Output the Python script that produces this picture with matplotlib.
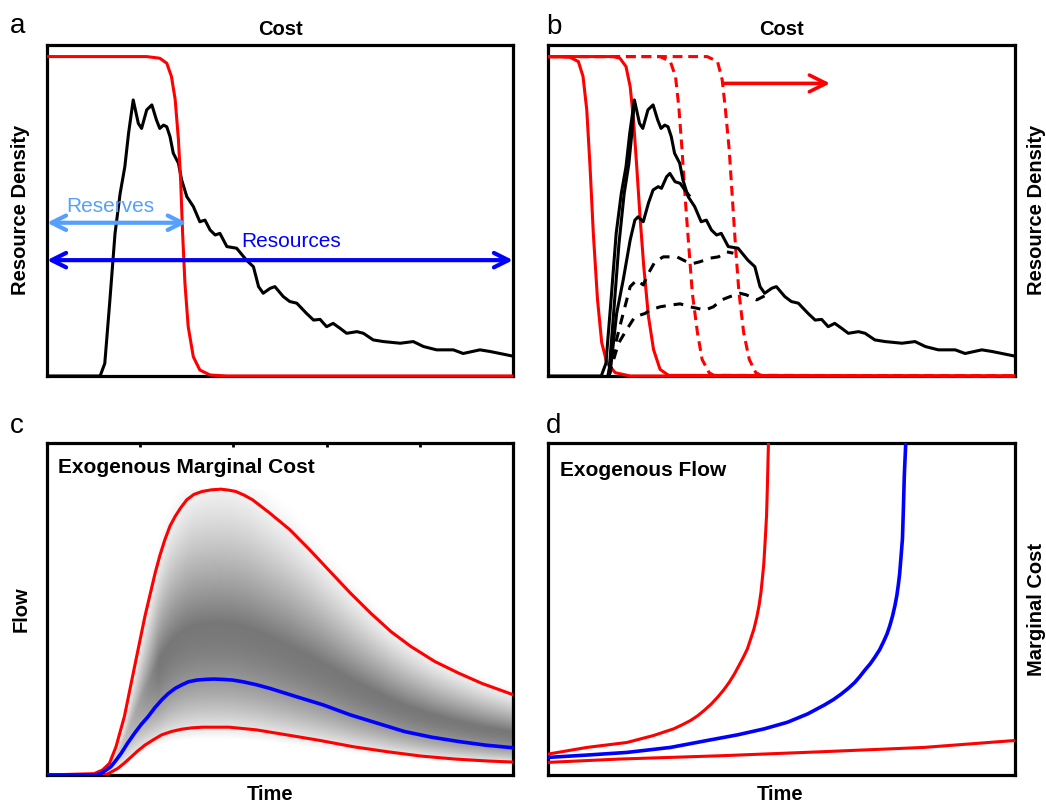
import numpy as np
import matplotlib.pyplot as plt

plt.rcParams["font.family"] = ["Liberation Sans", "DejaVu Sans"]

RED = "#ff0000"
BLUE = "#0000ff"
LIGHT_BLUE = "#55a0ff"
W, H = 1046, 806

# a / b: resource density against cost
density_cost = [0, 11.4, 12.4, 13.5, 14.6, 15.7, 16.7, 17.5, 18.5, 19.6,
                20.3, 21.4, 22.5, 23.5, 24.2, 25.0, 25.7, 26.4, 27.1, 28.2,
                28.9, 30.0, 31.4, 32.8, 33.9, 35.0, 36.1, 37.1, 38.6, 40.7,
                42.8, 44.3, 45.4, 46.4, 47.9, 48.9, 50.7, 52.1, 53.6, 55.7,
                57.2, 58.6, 60.0, 61.4, 62.9, 64.3, 66.5, 67.9, 70.0, 72.2,
                75.8, 78.6, 80.8, 83.6, 87.2, 89.3, 92.9, 95.1, 100]
density = [0, 0, 0.038, 0.230, 0.431, 0.552, 0.632, 0.733, 0.834, 0.763,
           0.748, 0.804, 0.819, 0.773, 0.748, 0.758, 0.753, 0.723, 0.673, 0.643,
           0.592, 0.542, 0.512, 0.466, 0.471, 0.441, 0.426, 0.431, 0.391, 0.386,
           0.350, 0.330, 0.270, 0.250, 0.265, 0.270, 0.240, 0.225, 0.220, 0.189,
           0.169, 0.171, 0.149, 0.159, 0.144, 0.129, 0.134, 0.129, 0.109, 0.104,
           0.099, 0.104, 0.089, 0.079, 0.079, 0.068, 0.079, 0.074, 0.060]

# extracted fraction (red step) in a
extract_cost = [0, 21.4, 24.2, 25.7, 26.7, 27.5, 28.2, 28.7, 29.1, 29.6,
                30.3, 31.4, 32.8, 35.0, 38.6, 100]
extract_frac = [0.965, 0.965, 0.960, 0.945, 0.905, 0.836, 0.715, 0.584, 0.431, 0.280,
                0.149, 0.058, 0.018, 0.003, 0, 0]

# b: four extraction fronts (two solid, two dashed)
front1_cost = [0, 4.7, 6.5, 7.5, 8.3, 9.0, 9.7, 10.6, 11.5, 12.6, 14.4, 17.6, 100]
front1_frac = [0.965, 0.963, 0.950, 0.905, 0.804, 0.633, 0.432, 0.231, 0.101, 0.040, 0.010, 0, 0]
front2_cost = [0, 14.0, 15.4, 16.7, 17.6, 18.3, 19.0, 19.7, 20.5, 21.5, 22.6, 24.0, 25.8, 100]
front2_frac = [0.965, 0.965, 0.960, 0.935, 0.874, 0.774, 0.633, 0.482, 0.332, 0.181, 0.080, 0.020, 0.002, 0]
front3_cost = [0, 24.0, 26.2, 27.3, 28.0, 28.7, 29.4, 30.2, 30.9, 32.0, 33.0, 34.5, 35.5, 100]
front3_frac = [0.965, 0.965, 0.950, 0.905, 0.815, 0.684, 0.533, 0.382, 0.251, 0.131, 0.050, 0.010, 0.002, 0]
front4_cost = [0, 34.1, 36.3, 37.3, 38.0, 38.8, 39.5, 40.2, 40.9, 41.9, 43.1, 44.5, 45.6, 100]
front4_frac = [0.965, 0.965, 0.950, 0.895, 0.804, 0.684, 0.533, 0.382, 0.251, 0.131, 0.050, 0.010, 0.002, 0]

# b: remaining density curves
rise_cost = [13.0, 14.0, 15.2, 16.3, 17.3, 18.0, 18.5]
rise_dens = [0, 0.18, 0.40, 0.55, 0.64, 0.74, 0.834]
mid_cost = [12.8, 13.3, 14.7, 16.1, 17.6, 18.6, 19.3, 20.4, 21.5, 22.5,
            23.6, 24.3, 25.4, 26.1, 27.2, 28.3, 29.3, 30.4]
mid_dens = [0, 0.009, 0.189, 0.290, 0.411, 0.471, 0.481, 0.466, 0.522, 0.562,
            0.572, 0.567, 0.602, 0.612, 0.587, 0.582, 0.562, 0.542]
dash_hi_cost = [12.8, 14.3, 16.1, 17.6, 19.0, 20.4, 21.5, 22.9, 24.7, 27.6,
                29.7, 31.1, 32.5, 34.7, 36.5, 38.3, 39.7]
dash_hi_dens = [0, 0.089, 0.189, 0.270, 0.290, 0.275, 0.310, 0.345, 0.360, 0.360,
                0.345, 0.340, 0.345, 0.356, 0.360, 0.375, 0.371]
dash_lo_cost = [13.0, 15.1, 16.8, 18.6, 20.8, 21.8, 24.0, 26.1, 28.3, 30.4,
                31.8, 33.6, 35.4, 37.2, 39.0, 41.1, 42.5, 44.7, 46.1, 47.5]
dash_lo_dens = [0, 0.099, 0.139, 0.179, 0.189, 0.199, 0.209, 0.214, 0.218, 0.209,
                0.205, 0.199, 0.209, 0.230, 0.240, 0.250, 0.245, 0.230, 0.240, 0.250]

# c: flow over time, exogenous marginal cost
upper_t = [0, 10.1, 11.9, 13.4, 14.8, 16.6, 18.8, 21.0, 23.2, 24.2,
           25.3, 26.4, 27.5, 28.7, 30.0, 31.5, 33.3, 35.3, 37.3, 39.0,
           40.5, 42.3, 44.1, 47.8, 52.1, 56.4, 60.4, 65.1, 69.5, 73.8,
           78.1, 83.2, 88.3, 93.3, 100]
upper_flow = [0, 0.004, 0.015, 0.035, 0.085, 0.176, 0.327, 0.477, 0.608, 0.66,
              0.709, 0.75, 0.779, 0.805, 0.829, 0.845, 0.854, 0.859, 0.861, 0.858,
              0.854, 0.843, 0.829, 0.789, 0.739, 0.678, 0.618, 0.548, 0.487, 0.432,
              0.387, 0.342, 0.307, 0.276, 0.242]
median_t = [0, 10.5, 11.6, 12.6, 13.7, 14.8, 15.9, 17.3, 18.8, 20.2,
            21.7, 23.1, 24.6, 26.0, 27.5, 29.0, 30.4, 32.2, 34.0, 35.8,
            37.6, 39.8, 42.0, 44.9, 47.8, 53.5, 59.3, 65.1, 70.9, 76.7,
            82.5, 88.3, 94.1, 100]
median_flow = [0, 0, 0.005, 0.014, 0.025, 0.044, 0.065, 0.096, 0.126, 0.152,
               0.176, 0.202, 0.226, 0.245, 0.261, 0.272, 0.281, 0.286, 0.288, 0.289,
               0.288, 0.286, 0.281, 0.272, 0.261, 0.236, 0.211, 0.181, 0.156, 0.131,
               0.114, 0.101, 0.090, 0.082]
lower_t = [0, 11.5, 13.0, 15.2, 16.6, 18.1, 19.5, 21.0, 22.8, 24.6,
           26.7, 28.9, 31.1, 33.3, 39.1, 44.9, 51.4, 58.6, 65.8, 73.1,
           80.3, 87.6, 94.8, 100]
lower_flow = [0, 0, 0.003, 0.020, 0.036, 0.055, 0.073, 0.090, 0.106, 0.121,
              0.131, 0.138, 0.142, 0.144, 0.144, 0.136, 0.121, 0.104, 0.085, 0.070,
              0.057, 0.048, 0.042, 0.039]

# d: marginal cost over time, exogenous flow
fast_t = [0, 8.3, 16.9, 22.6, 26.9, 28.7, 30.5, 32.0, 33.4, 34.9,
          36.3, 37.6, 38.8, 39.9, 40.9, 41.8, 42.7, 43.4, 44.1, 44.7,
          45.2, 45.6, 45.9, 46.2, 46.4, 46.6, 46.8, 46.9, 47.0, 47.1,
          47.2, 47.3]
fast_cost = [0.063, 0.083, 0.098, 0.119, 0.139, 0.151, 0.164, 0.178, 0.194, 0.213,
             0.234, 0.256, 0.279, 0.304, 0.330, 0.354, 0.380, 0.41, 0.440, 0.475,
             0.511, 0.55, 0.591, 0.635, 0.681, 0.73, 0.782, 0.83, 0.882, 0.94,
             0.998, 1.03]
base_t = [0, 8.3, 16.9, 26.2, 34.1, 40.6, 46.3, 51.3, 55.6, 59.2,
          61.1, 62.8, 64.3, 65.7, 66.8, 67.8, 69.0, 70.0, 71.0, 71.8,
          72.6, 73.2, 73.8, 74.3, 74.7, 75.0, 75.3, 75.5, 75.7, 75.9,
          76.0, 76.1, 76.3, 76.6, 76.7]
base_cost = [0.053, 0.060, 0.068, 0.083, 0.104, 0.121, 0.139, 0.159, 0.184, 0.211,
             0.227, 0.244, 0.261, 0.279, 0.297, 0.315, 0.335, 0.355, 0.377, 0.400,
             0.425, 0.450, 0.480, 0.511, 0.541, 0.571, 0.606, 0.641, 0.676, 0.712,
             0.757, 0.802, 0.903, 0.998, 1.03]
slow_t = [0, 15.2, 37.0, 58.5, 80.4, 100]
slow_cost = [0.038, 0.048, 0.058, 0.070, 0.083, 0.104]


def fpos(x, y):
    return x / W, 1 - y / H


def setup(ax):
    ax.set_xlim(0, 100)
    ax.set_ylim(0, 1)
    ax.set_xticks([])
    ax.set_yticks([])
    for s in ax.spines.values():
        s.set_linewidth(2.3)


fig = plt.figure(figsize=(W / 100, H / 100), dpi=100)
ax1 = fig.add_axes([47 / W, 1 - 376 / H, 466 / W, 331 / H])
ax2 = fig.add_axes([548 / W, 1 - 376 / H, 467 / W, 331 / H])
ax3 = fig.add_axes([47 / W, 1 - 775 / H, 466 / W, 332 / H])
ax4 = fig.add_axes([548 / W, 1 - 775 / H, 467 / W, 332 / H])
for ax in (ax1, ax2, ax3, ax4):
    setup(ax)

lw = 2.2
kw = dict(clip_on=False, zorder=3, solid_capstyle="butt", solid_joinstyle="round")

# a
ax1.plot(density_cost, density, color="black", lw=lw, **kw)
ax1.plot(extract_cost, extract_frac, color=RED, lw=lw, **kw)
ax1.annotate("", xy=(30.0, 0.463), xytext=(0, 0.463),
             arrowprops=dict(arrowstyle="<->", color=LIGHT_BLUE, lw=3,
                             mutation_scale=26, shrinkA=0, shrinkB=0))
ax1.annotate("", xy=(100, 0.350), xytext=(0, 0.350),
             arrowprops=dict(arrowstyle="<->", color=BLUE, lw=3,
                             mutation_scale=26, shrinkA=0, shrinkB=0))
ax1.text(13.5, 0.495, "Reserves", color=LIGHT_BLUE, fontsize=15, ha="center", va="baseline")
ax1.text(52.3, 0.390, "Resources", color=BLUE, fontsize=15, ha="center", va="baseline")
ax1.set_title("Cost", fontsize=14.5, fontweight="bold", pad=7)

# b
ax2.plot(front3_cost, front3_frac, color=RED, lw=lw, dashes=(3.2, 1.9), **kw)
ax2.plot(front4_cost, front4_frac, color=RED, lw=lw, dashes=(3.2, 1.9), **kw)
ax2.plot(front1_cost, front1_frac, color=RED, lw=lw, **kw)
ax2.plot(front2_cost, front2_frac, color=RED, lw=lw, **kw)
ax2.plot(density_cost, density, color="black", lw=lw, **kw)
ax2.plot(rise_cost, rise_dens, color="black", lw=lw, **kw)
ax2.plot(mid_cost, mid_dens, color="black", lw=lw, **kw)
ax2.plot(dash_hi_cost, dash_hi_dens, color="black", lw=lw, dashes=(3.2, 2.6), **kw)
ax2.plot(dash_lo_cost, dash_lo_dens, color="black", lw=lw, dashes=(3.2, 2.6), **kw)
ax2.annotate("", xy=(60.4, 0.884), xytext=(37.7, 0.884),
             arrowprops=dict(arrowstyle="->", color=RED, lw=2.6,
                             mutation_scale=30, shrinkA=0, shrinkB=0))
ax2.set_title("Cost", fontsize=14.5, fontweight="bold", pad=7)

# c: shaded spread of possible flows
xs = np.linspace(0, 100, 700)
ys = np.linspace(0, 1, 500)
lo = np.interp(xs, lower_t, lower_flow)
md = np.interp(xs, median_t, median_flow)
hi = np.interp(xs, upper_t, upper_flow)
Y = ys[:, None]
peak = md + 0.3 * (hi - md)
up = np.clip((Y - peak) / (1.2 * (hi - peak) + 1e-6), 0, 1)
down = np.clip((peak - Y) / (peak - 0.75 * lo + 1e-6), 0, 1)
dark = np.where(Y >= peak, (1 - up) ** 1.3, 1 - down ** 2)
dark *= np.clip((xs - 10) / 14, 0, 1)
dark[ys > max(upper_flow)] = 0
shade = 1 - 0.53 * dark
ax3.imshow(np.dstack([shade] * 3), extent=[0, 100, 0, 1], origin="lower",
           aspect="auto", interpolation="bilinear", zorder=1)
ax3.plot(upper_t, upper_flow, color=RED, lw=lw, zorder=3)
ax3.plot(lower_t, lower_flow, color=RED, lw=lw, zorder=3)
ax3.plot(median_t, median_flow, color=BLUE, lw=2.6, zorder=3)
ax3.set_xticks([20, 40, 60, 80])
ax3.tick_params(axis="x", top=True, bottom=False, direction="in", length=3,
                width=2, labeltop=False, labelbottom=False)
ax3.text(2.4, 0.925, "Exogenous Marginal Cost", fontsize=15, fontweight="bold",
         ha="left", va="center")

# d
ax4.plot(slow_t, slow_cost, color=RED, lw=lw, zorder=3)
ax4.plot(base_t, base_cost, color=BLUE, lw=2.6, zorder=3)
ax4.plot(fast_t, fast_cost, color=RED, lw=lw, zorder=3)
ax4.text(2.6, 0.916, "Exogenous Flow", fontsize=15, fontweight="bold",
         ha="left", va="center")

# axis labels and panel letters
lab = dict(fontsize=14.5, fontweight="bold", ha="center", va="center")
fig.text(*fpos(21, 210), "Resource Density", rotation=90, **lab)
fig.text(*fpos(1037, 210), "Resource Density", rotation=90, **lab)
fig.text(*fpos(21, 609), "Flow", rotation=90, **lab)
fig.text(*fpos(1037, 609), "Marginal Cost", rotation=90, **lab)
fig.text(*fpos(270, 795), "Time", **lab)
fig.text(*fpos(780, 795), "Time", **lab)
for letter, (x, y) in zip("abcd", [(10, 33), (546, 34), (10, 433), (546, 433)]):
    fig.text(*fpos(x, y), letter, fontsize=20, ha="left", va="baseline")

fig.savefig("out.png", dpi=100)
